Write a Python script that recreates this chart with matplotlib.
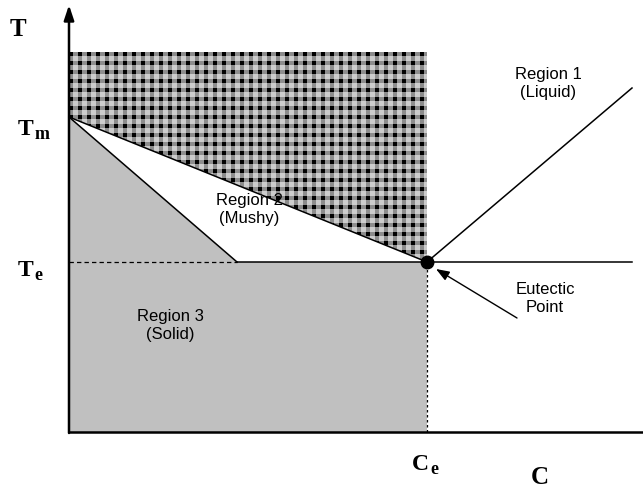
import numpy as np
import matplotlib
matplotlib.use("Agg")
import matplotlib.pyplot as plt
from matplotlib.patches import Polygon

# Schematic phase-diagram values (arbitrary units)
T_m = 315.0        # melting temperature
T_e = 170.0        # eutectic temperature
C_e = 358.0        # eutectic composition
C_sol = 168.0      # solidus meets eutectic isotherm
T_top = 380.0      # top of the liquid region
C_end = 563.0      # right end of the drawn lines
T_end = 344.0      # liquidus (right branch) end temperature
C_max = 574.0      # x-axis length
T_max = 427.0      # y-axis length

W, H = 643, 496
fig = plt.figure(figsize=(W / 100, H / 100), dpi=100)
ax = fig.add_axes([0, 0, 1, 1])
ax.set_xlim(-69, W - 69)
ax.set_ylim(432 - H, 432)
ax.axis('off')

# Region 3 (solid): grey fill
solid = Polygon([(0, T_m), (C_sol, T_e), (C_e, T_e), (C_e, 0), (0, 0)],
                closed=True, facecolor='#c0c0c0', edgecolor='none', zorder=1)
ax.add_patch(solid)

# Region 1 (liquid): gingham checker pattern clipped to the region
nx, ny = int(C_e), int(T_top)
xx, yy = np.meshgrid(np.arange(nx), np.arange(ny))
period, stripe = 9, 4
colband = ((xx % period) < stripe).astype(int)
rowband = ((yy % period) < stripe).astype(int)
level = colband + rowband
shade = np.where(level == 2, 0.0, np.where(level == 1, 0.55, 0.80))
rgb = np.dstack([shade, shade, shade])
img = ax.imshow(rgb, extent=(0, nx, T_top - ny, T_top), origin='upper',
                interpolation='nearest', zorder=1, aspect='auto')
liquid = Polygon([(0, T_top), (C_e, T_top), (C_e, T_e), (0, T_m)],
                 closed=True, facecolor='none', edgecolor='none')
ax.add_patch(liquid)
img.set_clip_path(liquid)

# Phase boundaries
ax.plot([0, C_e], [T_m, T_e], color='black', lw=1.1, zorder=3)          # liquidus
ax.plot([0, C_sol], [T_m, T_e], color='black', lw=1.1, zorder=3)        # solidus
ax.plot([C_sol, C_end], [T_e, T_e], color='black', lw=1.1, zorder=3)    # eutectic isotherm
ax.plot([C_e, C_end], [T_e, T_end], color='black', lw=1.1, zorder=3)    # right liquidus
ax.plot([0, C_sol], [T_e, T_e], color='black', lw=0.9, ls=(0, (3.5, 2.5)), zorder=3)
ax.plot([C_e, C_e], [0, T_e], color='black', lw=0.9, ls=(0, (2, 2)), zorder=3)

# Eutectic point
ax.plot([C_e], [T_e], 'o', color='black', ms=9, zorder=4)

# Axes with arrow on T
ax.plot([0, C_max], [0, 0], color='black', lw=1.8, zorder=5, solid_capstyle='butt')
ax.annotate('', xy=(0, T_max), xytext=(0, -1),
            arrowprops=dict(arrowstyle='-|>,head_length=0.9,head_width=0.3',
                            color='black', lw=1.8, shrinkA=0, shrinkB=0), zorder=5)

# Axis symbols (bold serif, subscripts as separate smaller text)
serif = dict(fontfamily='Liberation Serif', fontweight='bold', color='black')


def symbol(x, y, main, sub, size=17, subsize=13):
    t = ax.text(x, y, main, fontsize=size, ha='left', va='baseline', **serif)
    fig.canvas.draw()
    bb = t.get_window_extent().transformed(ax.transData.inverted())
    ax.text(bb.x1 + 1, y - 4, sub, fontsize=subsize, ha='left', va='baseline', **serif)


ax.text(-51, 402, 'T', fontsize=18, ha='center', va='center', **serif)
symbol(-51, T_m - 18, 'T', 'm')
symbol(-51, T_e - 14, 'T', 'e')
symbol(C_e - 15, -38, 'C', 'e')
ax.text(C_e + 113, -46, 'C', fontsize=18, ha='center', va='center', **serif)

# Region labels
sans = dict(fontfamily='Liberation Sans', fontsize=12, ha='center', va='center',
            linespacing=1.25, color='black')
ax.text(479, 349, 'Region 1\n(Liquid)', zorder=6, **sans)
ax.text(180, 222, 'Region 2\n(Mushy)', zorder=6, **sans)
ax.text(101, 106, 'Region 3\n(Solid)', zorder=6, **sans)
ax.text(476, 134, 'Eutectic\nPoint', zorder=6, **sans)

# Arrow pointing to the eutectic point
ax.annotate('', xy=(C_e + 9, T_e - 7), xytext=(448, 114),
            arrowprops=dict(arrowstyle='-|>,head_length=0.8,head_width=0.3',
                            color='black', lw=1.0, shrinkA=0, shrinkB=0), zorder=6)

fig.savefig('out.png', dpi=100)
